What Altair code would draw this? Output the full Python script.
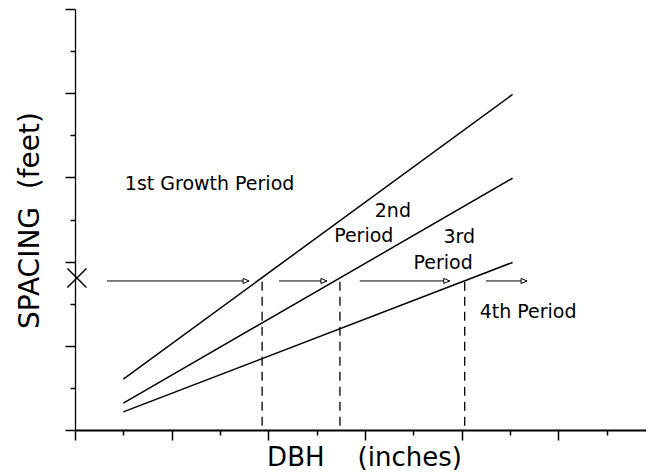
import altair as alt
import pandas as pd

# ---- data ----
line_names = ["1st", "2nd", "3rd"]
line_x = [1.0, 9.05]
line_y_start = [1.21, 0.64, 0.43]
line_y_end = [7.97, 5.98, 3.98]

arrow_start = [0.66, 4.22, 5.89, 8.50]
arrow_end = [3.60, 5.21, 7.75, 9.35]
arrow_level = 3.54

drop_x = [3.87, 5.48, 8.06]
drop_top = 3.52

marker_x = [0.04]
marker_y = [3.61]

label_text = ["1st Growth Period", "2nd", "Period", "3rd", "Period", "4th Period"]
label_x = [1.03, 6.20, 5.36, 7.62, 7.00, 8.37]
label_y = [5.70, 5.06, 4.47, 4.44, 3.82, 2.66]

x_ticks = list(range(0, 12))
y_ticks = list(range(0, 11))

FONT = "DejaVu Sans"
NB = "\u00a0"

# ---- tables ----
lines_df = pd.DataFrame(
    [{"series": n, "x": line_x[0], "y": s} for n, s in zip(line_names, line_y_start)]
    + [{"series": n, "x": line_x[1], "y": e} for n, e in zip(line_names, line_y_end)]
)
arrows_df = pd.DataFrame({"x": arrow_start, "x2": arrow_end, "y": [arrow_level] * len(arrow_start)})
heads_df = pd.DataFrame({"x": arrow_end, "y": [arrow_level] * len(arrow_end)})
drops_df = pd.DataFrame({"x": drop_x, "y": [drop_top] * len(drop_x), "y2": [0.0] * len(drop_x)})
marker_df = pd.DataFrame({"x": marker_x, "y": marker_y})
labels_df = pd.DataFrame({"x": label_x, "y": label_y, "text": label_text})

xs = alt.Scale(domain=[0, 11.81], nice=False, zero=False)
ys = alt.Scale(domain=[0, 10], nice=False, zero=False)

tick_len = {"condition": {"test": "datum.value % 2 === 0", "value": 10}, "value": 5}

xaxis = alt.Axis(
    values=x_ticks, labels=False, grid=False,
    domainColor="black", domainWidth=2,
    tickColor="black", tickWidth=1.5, tickSize=tick_len,
    title="DBH" + NB * 4 + "(inches)",
    titleFont=FONT, titleFontSize=26, titleFontWeight="normal", titleColor="black",
    titleX=289, titleY=35, titleBaseline="alphabetic", titleAlign="center",
)
yaxis = alt.Axis(
    values=y_ticks, labels=False, grid=False,
    domainColor="black", domainWidth=1.3,
    tickColor="black", tickWidth=1.5, tickSize=tick_len,
    title="SPACING" + NB * 2 + "(feet)",
    titleFont=FONT, titleFontSize=28, titleFontWeight="normal", titleColor="black",
    titleAngle=270, titleX=-37, titleY=211, titleBaseline="alphabetic", titleAlign="center",
)

X = alt.X("x:Q", scale=xs, axis=xaxis)
Y = alt.Y("y:Q", scale=ys, axis=yaxis)

lines = alt.Chart(lines_df).mark_line(color="black", strokeWidth=1.5).encode(
    x=X, y=Y, detail="series:N"
)
drops = alt.Chart(drops_df).mark_rule(color="black", strokeWidth=1.3, strokeDash=[9, 6]).encode(
    x=X, y=Y, y2="y2:Q"
)
arrows = alt.Chart(arrows_df).mark_rule(color="black", strokeWidth=1).encode(
    x=X, x2="x2:Q", y=Y
)
heads = alt.Chart(heads_df).mark_point(
    shape="M-1,-0.42L0,0L-1,0.42Z", size=144, filled=True,
    fill="white", stroke="black", strokeWidth=1, opacity=1,
).encode(x=X, y=Y)
marker = alt.Chart(marker_df).mark_point(
    shape="M-1,-1L1,1M-1,1L1,-1", size=361, filled=False,
    color="black", strokeWidth=1.5, opacity=1,
).encode(x=X, y=Y)
labels = alt.Chart(labels_df).mark_text(
    align="left", baseline="alphabetic", font=FONT, fontSize=19, color="black"
).encode(x=X, y=Y, text="text:N")

chart = alt.layer(lines, drops, arrows, heads, marker, labels).properties(
    width=571, height=421,
    autosize=alt.AutoSizeParams(type="none"),
    padding={"left": 67, "top": 1, "right": 0, "bottom": 46},
    background="white",
).configure_view(stroke=None)

chart.save("out.html", embed_options={"renderer": "svg", "actions": False})
